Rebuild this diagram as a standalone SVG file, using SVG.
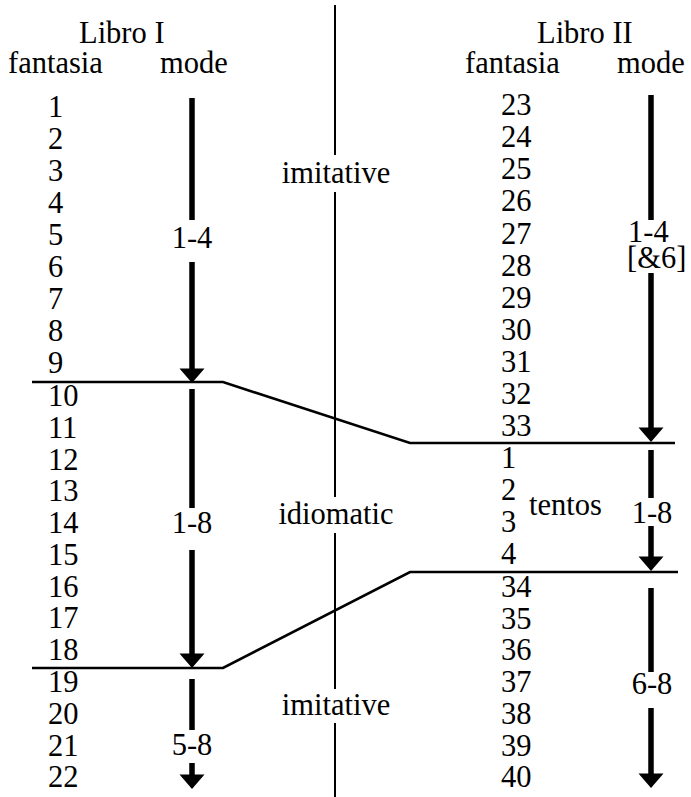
<svg xmlns="http://www.w3.org/2000/svg" xmlns:xlink="http://www.w3.org/1999/xlink" width="691" height="797" viewBox="0 0 691 797">
<style>
text{font-family:"Liberation Serif","Times New Roman",serif;font-size:30.5px;fill:#000}
.m{text-anchor:middle}
.thin{stroke:#000;stroke-width:2;fill:none}
.div{stroke:#000;stroke-width:2.6;fill:none;stroke-linejoin:miter}
.shaft{stroke:#000;stroke-width:5.5;fill:none}
</style>
<defs>
<path id="head" d="M-12.5,-14.5 L12.5,-14.5 L0,0 Z" fill="#000"/>
</defs>
<rect width="691" height="797" fill="#fff"/>
<g id="connectors">
<path class="thin" d="M335,5 V155 M335,192 V497 M335,533 V689 M335,723 V797"/>
<path class="div" d="M32,382 H223 L410,443 H675"/>
<path class="div" d="M32,668 H223 L410,572 H678"/>
<path class="shaft" d="M192,98 V220 M192,262 V370 M192,389 V508 M192,550 V655 M192,679 V730 M192,763 V776"/>
<use xlink:href="#head" x="192" y="383"/>
<use xlink:href="#head" x="192" y="668"/>
<use xlink:href="#head" x="192" y="789"/>
<path class="shaft" d="M651,95 V220 M651,273 V429 M651,450 V498 M651,526 V558 M651,588 V672 M651,708 V774"/>
<use xlink:href="#head" x="651" y="442"/>
<use xlink:href="#head" x="651" y="571"/>
<use xlink:href="#head" x="651" y="788"/>
</g>
<g id="libro1">
<text x="79" y="43">Libro I</text>
<text x="8" y="73">fantasia</text>
<text x="160" y="73">mode</text>
</g>
<g id="libro2">
<text x="537" y="43">Libro II</text>
<text x="465" y="73">fantasia</text>
<text x="617" y="73">mode</text>
</g>
<g id="col1">
<text x="48" y="117">1</text>
<text x="48" y="149">2</text>
<text x="48" y="181">3</text>
<text x="48" y="213">4</text>
<text x="48" y="245">5</text>
<text x="48" y="277">6</text>
<text x="48" y="309">7</text>
<text x="48" y="341">8</text>
<text x="48" y="373">9</text>
<text x="48" y="406">10</text>
<text x="48" y="437.5">11</text>
<text x="48" y="469.5">12</text>
<text x="48" y="501">13</text>
<text x="48" y="533">14</text>
<text x="48" y="565">15</text>
<text x="48" y="596.5">16</text>
<text x="48" y="628">17</text>
<text x="48" y="660">18</text>
<text x="48" y="692">19</text>
<text x="48" y="723.5">20</text>
<text x="48" y="755.5">21</text>
<text x="48" y="787">22</text>
</g>
<g id="col2">
<text x="501" y="115">23</text>
<text x="501" y="147">24</text>
<text x="501" y="179">25</text>
<text x="501" y="211">26</text>
<text x="501" y="243.5">27</text>
<text x="501" y="275.5">28</text>
<text x="501" y="307.5">29</text>
<text x="501" y="340">30</text>
<text x="501" y="372">31</text>
<text x="501" y="404">32</text>
<text x="501" y="436">33</text>
<text x="501" y="468">1</text>
<text x="501" y="500">2</text>
<text x="501" y="532">3</text>
<text x="501" y="564">4</text>
<text x="501" y="597">34</text>
<text x="501" y="628.5">35</text>
<text x="501" y="660">36</text>
<text x="501" y="692">37</text>
<text x="501" y="723.5">38</text>
<text x="501" y="755.5">39</text>
<text x="501" y="787">40</text>
</g>
<g id="styles">
<text class="m" x="336" y="183">imitative</text>
<text class="m" x="336" y="524">idiomatic</text>
<text class="m" x="336" y="715">imitative</text>
<text x="529" y="515">tentos</text>
</g>
<g id="modes">
<text class="m" x="192" y="248">1-4</text>
<text class="m" x="192" y="533">1-8</text>
<text class="m" x="192" y="755">5-8</text>
<text><tspan x="628" y="242">1-4</tspan><tspan x="627" y="268">[&amp;6]</tspan></text>
<text class="m" x="652" y="523">1-8</text>
<text class="m" x="652" y="694">6-8</text>
</g>
</svg>
